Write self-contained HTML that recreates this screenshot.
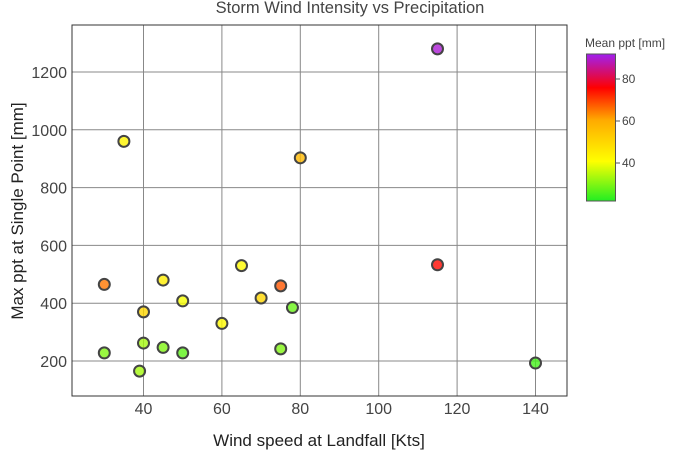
<!DOCTYPE html>
<html><head><meta charset="utf-8"><style>
body{margin:0;background:#fff;font-family:"Liberation Sans",sans-serif}
</style></head><body>
<svg id="c" width="700" height="450" xmlns="http://www.w3.org/2000/svg">
<defs><linearGradient id="g" x1="0" y1="1" x2="0" y2="0">
<stop offset="0" stop-color="#22ee22"/><stop offset="0.27" stop-color="#ffff00"/>
<stop offset="0.55" stop-color="#ffaa00"/><stop offset="0.77" stop-color="#ff0000"/>
<stop offset="1" stop-color="#a020f0"/></linearGradient></defs>
</svg>
<script>
const windSpeed=[30,30,35,39,40,40,45,45,50,50,60,65,70,75,75,78,80,115,115,140];
const maxPpt=[465,228,960,165,370,262,480,247,408,228,330,530,418,460,242,385,903,1280,533,193];
const meanPpt=[65,30,43,33,50,33,45,30,40,27,42,42,50,68,30,28,57,90,75,25];
const xTicks=[40,60,80,100,120,140];
const yTicks=[200,400,600,800,1000,1200];
const cTicks=[40,60,80];
const svg=document.getElementById('c');const NS='http://www.w3.org/2000/svg';
const L=72,R=567,T=25,B=396;
const xs=v=>143.5+(v-40)*3.92, ys=v=>361-(v-200)*0.289;
const cMin=21.9,cMax=91.9,cT=54,cB=201;
const cs=v=>cB-(v-cMin)/(cMax-cMin)*(cB-cT);
function el(t,a,txt){const e=document.createElementNS(NS,t);for(const k in a)e.setAttribute(k,a[k]);if(txt!==undefined)e.textContent=txt;svg.appendChild(e);return e;}
const stops=[[0,[34,238,34]],[0.27,[255,255,0]],[0.55,[255,170,0]],[0.77,[255,0,0]],[1,[160,32,240]]];
function col(v){let t=(v-cMin)/(cMax-cMin);t=Math.max(0,Math.min(1,t));for(let i=1;i<stops.length;i++){if(t<=stops[i][0]){const a=stops[i-1],b=stops[i],f=(t-a[0])/(b[0]-a[0]);return 'rgb('+a[1].map((c,j)=>Math.round(c+(b[1][j]-c)*f)).join(',')+')';}}return 'rgb(160,32,240)';}
xTicks.forEach(v=>{const g=el('line',{x1:xs(v),x2:xs(v),y1:T,y2:B,stroke:'#888','stroke-width':1});

const t=el('text',{x:xs(v),y:414,'text-anchor':'middle','font-size':16,fill:'#444'},v);
});
yTicks.forEach(v=>{const g=el('line',{x1:L,x2:R,y1:ys(v),y2:ys(v),stroke:'#888','stroke-width':1});

const t=el('text',{x:67,y:ys(v)+6,'text-anchor':'end','font-size':16,fill:'#444'},v);
});
const fr=el('rect',{x:L,y:T,width:R-L,height:B-T,fill:'none',stroke:'#333','stroke-width':1});

windSpeed.forEach((w,i)=>{const c=el('circle',{cx:xs(w),cy:ys(maxPpt[i]),r:5.5,fill:col(meanPpt[i]),'fill-opacity':0.8,stroke:'#444','stroke-width':2});
});
let t=el('text',{x:350,y:13,'text-anchor':'middle','font-size':16.5,fill:'#444'},'Storm Wind Intensity vs Precipitation');

t=el('text',{x:319,y:446,'text-anchor':'middle','font-size':17,fill:'#222'},'Wind speed at Landfall [Kts]');

t=el('text',{x:23,y:211,'text-anchor':'middle','font-size':17,fill:'#222',transform:'rotate(-90 23 211)'},'Max ppt at Single Point [mm]');

t=el('text',{x:585,y:47,'font-size':12,fill:'#444'},'Mean ppt [mm]');

const cb=el('rect',{x:586.5,y:cT,width:29,height:cB-cT,fill:'url(#g)',stroke:'#555','stroke-width':1});

cTicks.forEach(v=>{const l=el('line',{x1:616,x2:620,y1:cs(v),y2:cs(v),stroke:'#555'});

const tt=el('text',{x:622,y:cs(v)+4,'font-size':12,fill:'#444'},v);
});
</script>
</body></html>
